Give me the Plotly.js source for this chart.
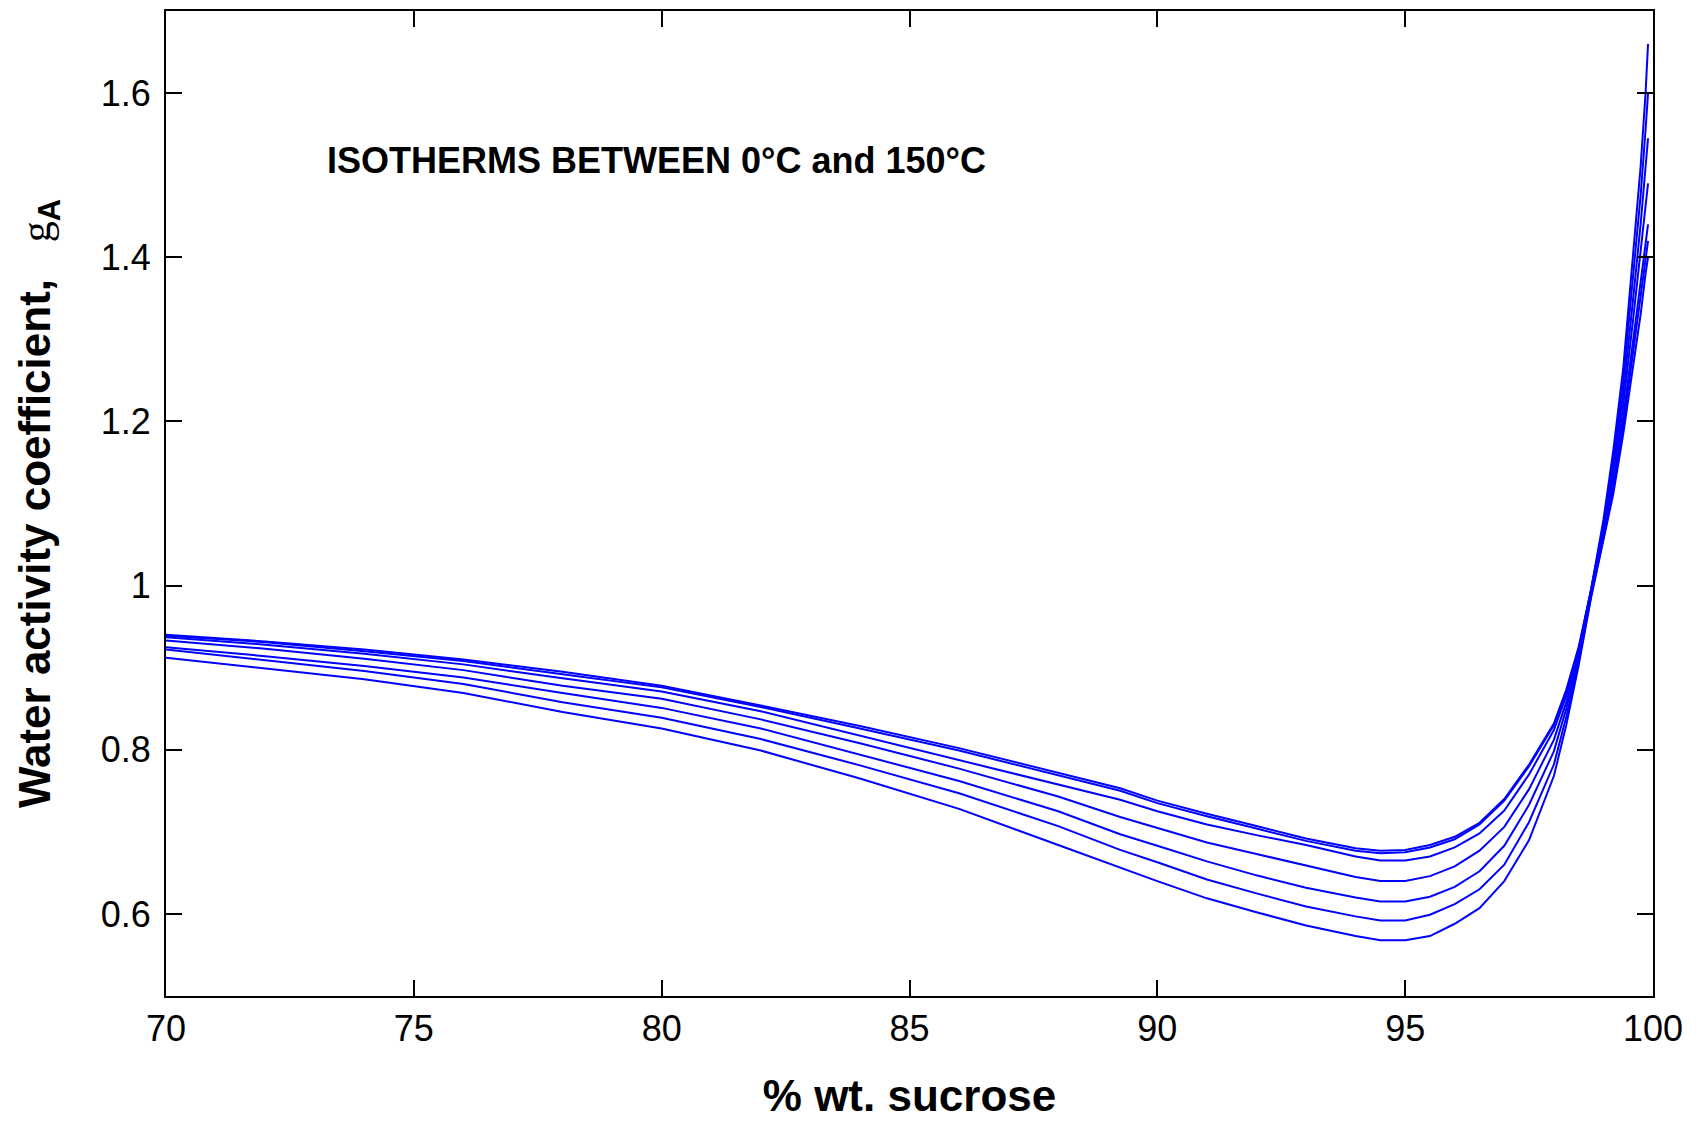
<!DOCTYPE html>
<html>
<head>
<meta charset="utf-8">
<script src="https://cdn.plot.ly/plotly-3.0.1.min.js"></script>
<style>
  html, body { margin: 0; padding: 0; background: #ffffff; }
  #chart { width: 1697px; height: 1122px; }
</style>
</head>
<body>
<div id="chart"></div>
<script>
// % wt. sucrose (x values shared by all isotherms)
const sucrose = [70, 72, 74, 76, 78, 80, 82, 84, 86, 88, 89.25, 90, 91, 92, 93, 94, 94.5, 95, 95.5, 96, 96.5, 97, 97.5, 98, 98.25, 98.5, 98.75, 99, 99.2, 99.4, 99.6, 99.75, 99.85, 99.9];

// Water activity coefficient for each isotherm (top to bottom at the minimum)
const iso1 = [0.940, 0.932, 0.922, 0.910, 0.895, 0.878, 0.854, 0.829, 0.802, 0.772, 0.753, 0.738, 0.722, 0.707, 0.692, 0.680, 0.677, 0.678, 0.684, 0.694, 0.711, 0.740, 0.782, 0.832, 0.873, 0.925, 0.995, 1.080, 1.165, 1.265, 1.400, 1.510, 1.600, 1.660];
const iso2 = [0.939, 0.931, 0.920, 0.908, 0.892, 0.876, 0.852, 0.826, 0.799, 0.769, 0.750, 0.735, 0.719, 0.704, 0.689, 0.677, 0.674, 0.675, 0.681, 0.691, 0.709, 0.738, 0.780, 0.830, 0.871, 0.923, 0.994, 1.075, 1.155, 1.250, 1.375, 1.475, 1.555, 1.600];
const iso3 = [0.937, 0.928, 0.917, 0.904, 0.887, 0.871, 0.847, 0.817, 0.787, 0.757, 0.739, 0.725, 0.709, 0.696, 0.684, 0.670, 0.665, 0.665, 0.670, 0.681, 0.698, 0.726, 0.770, 0.824, 0.866, 0.920, 0.993, 1.070, 1.145, 1.235, 1.350, 1.440, 1.510, 1.545];
const iso4 = [0.933, 0.923, 0.911, 0.897, 0.878, 0.862, 0.837, 0.808, 0.777, 0.743, 0.718, 0.705, 0.687, 0.673, 0.659, 0.645, 0.640, 0.640, 0.646, 0.658, 0.677, 0.706, 0.752, 0.812, 0.858, 0.915, 0.991, 1.065, 1.135, 1.220, 1.325, 1.405, 1.465, 1.490];
const iso5 = [0.925, 0.914, 0.902, 0.888, 0.869, 0.851, 0.826, 0.794, 0.762, 0.725, 0.697, 0.683, 0.664, 0.647, 0.632, 0.620, 0.615, 0.615, 0.621, 0.633, 0.652, 0.683, 0.733, 0.798, 0.850, 0.911, 0.989, 1.060, 1.125, 1.205, 1.300, 1.370, 1.420, 1.440];
const iso6 = [0.922, 0.909, 0.896, 0.880, 0.858, 0.839, 0.813, 0.781, 0.747, 0.707, 0.678, 0.663, 0.642, 0.625, 0.609, 0.597, 0.592, 0.592, 0.599, 0.612, 0.630, 0.660, 0.712, 0.782, 0.840, 0.907, 0.987, 1.058, 1.118, 1.195, 1.285, 1.350, 1.400, 1.420];
const iso7 = [0.912, 0.899, 0.886, 0.869, 0.846, 0.826, 0.799, 0.765, 0.728, 0.684, 0.656, 0.640, 0.619, 0.602, 0.586, 0.573, 0.568, 0.568, 0.573, 0.588, 0.607, 0.640, 0.690, 0.768, 0.830, 0.903, 0.985, 1.055, 1.112, 1.185, 1.270, 1.330, 1.380, 1.400];

const isotherms = [iso1, iso2, iso3, iso4, iso5, iso6, iso7];

const xTicks = [70, 75, 80, 85, 90, 95, 100];
const yTicks = [0.6, 0.8, 1.0, 1.2, 1.4, 1.6];
const yTickLabels = ['0.6', '0.8', '1', '1.2', '1.4', '1.6'];

const annotationText = 'ISOTHERMS BETWEEN 0°C and 150°C';
const xTitle = '% wt. sucrose';
const yTitle = 'Water activity coefficient,';

const traces = isotherms.map((ys, i) => ({
  x: sucrose,
  y: ys,
  type: 'scatter',
  mode: 'lines',
  name: 'Isotherm ' + (i + 1),
  line: { color: '#0000FF', width: 2 },
  showlegend: false,
  hoverinfo: 'x+y'
}));

const baseFont = 'Liberation Sans, Arial, Helvetica, sans-serif';

const layout = {
  width: 1697,
  height: 1122,
  paper_bgcolor: '#ffffff',
  plot_bgcolor: '#ffffff',
  margin: { l: 166, r: 44, t: 11, b: 126, pad: 0 },
  showlegend: false,
  font: { family: baseFont, color: '#000000', size: 36 },
  xaxis: {
    range: [70, 100],
    tickmode: 'array',
    tickvals: xTicks,
    ticktext: xTicks.map(String),
    ticks: 'inside',
    ticklen: 16,
    tickwidth: 2,
    tickcolor: '#000000',
    showline: true,
    linecolor: '#000000',
    linewidth: 2,
    mirror: 'ticks',
    showgrid: false,
    zeroline: false,
    ticklabelstandoff: 0,
    tickfont: { family: baseFont, size: 36, color: '#000000' },
    automargin: false,
    title: {
      text: '<b>' + xTitle + '</b>',
      font: { family: baseFont, size: 44, color: '#000000' },
      standoff: 32
    }
  },
  yaxis: {
    range: [0.5, 1.7],
    tickmode: 'array',
    tickvals: yTicks,
    ticktext: yTickLabels,
    ticks: 'inside',
    ticklen: 16,
    tickwidth: 2,
    tickcolor: '#000000',
    showline: true,
    linecolor: '#000000',
    linewidth: 2,
    mirror: 'ticks',
    showgrid: false,
    zeroline: false,
    ticklabelstandoff: 6,
    tickfont: { family: baseFont, size: 36, color: '#000000' },
    automargin: false,
    title: {
      text: '<b>' + yTitle + '</b>\u00A0\u00A0\u00A0<span style="font-family:Liberation Serif, serif;font-weight:normal;font-size:42px">g</span><sub><b>A</b></sub>',
      font: { family: baseFont, size: 44, color: '#000000' },
      standoff: 36
    }
  },
  annotations: [{
    text: '<b>' + annotationText + '</b>',
    xref: 'x', yref: 'y',
    x: 73.2, y: 1.518,
    xanchor: 'left', yanchor: 'middle',
    showarrow: false,
    font: { family: baseFont, size: 36, color: '#000000' }
  }]
};

Plotly.newPlot('chart', traces, layout, { staticPlot: true, displayModeBar: false });
</script>
</body>
</html>
